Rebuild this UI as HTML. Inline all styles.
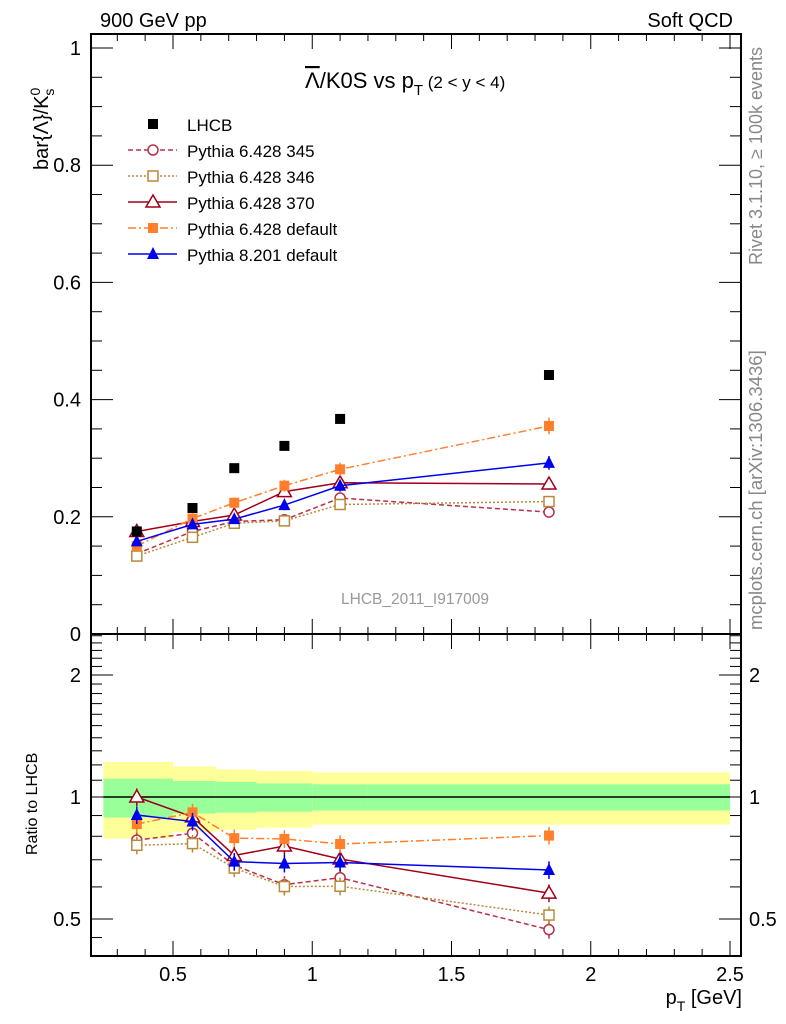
<!DOCTYPE html>
<html><head><meta charset="utf-8">
<style>
body{margin:0;background:#fff;}
svg{display:block;font-family:"Liberation Sans",sans-serif;}
</style></head>
<body>
<svg id="chart" width="786" height="1024" viewBox="0 0 786 1024" xmlns="http://www.w3.org/2000/svg">
<text x="100" y="27" font-size="20">900 GeV pp</text>
<text x="733" y="27" font-size="20" text-anchor="end">Soft QCD</text>
<text x="305" y="88" font-size="22"><tspan text-decoration="overline">Λ</tspan>/K0S vs p<tspan font-size="15" dy="7">T</tspan><tspan font-size="17" dy="-7"> (2 &lt; y &lt; 4)</tspan></text>
<text transform="translate(762,265) rotate(-90)" font-size="18" fill="#888">Rivet 3.1.10, ≥ 100k events</text>
<text transform="translate(762,630) rotate(-90)" font-size="18.5" fill="#888">mcplots.cern.ch [arXiv:1306.3436]</text>
<text transform="translate(48,170) rotate(-90)" font-size="20">bar{Λ}/K<tspan font-size="14" dy="-8">0</tspan><tspan font-size="14" dy="14" dx="-8">s</tspan></text>
<text transform="translate(37,855) rotate(-90)" font-size="16">Ratio to LHCB</text>
<text x="415" y="604" font-size="15.5" fill="#999" text-anchor="middle">LHCB_2011_I917009</text>
<text x="742" y="1004" font-size="20" text-anchor="end">p<tspan font-size="14" dy="7">T</tspan><tspan dy="-7"> [GeV]</tspan></text>
<g id="bands"></g><g id="axes"></g><g id="series"></g><g id="legend"></g>
</svg>
<script>
const xs = [0.37,0.57,0.72,0.9,1.1,1.85];
const lhcb = [0.175,0.215,0.283,0.321,0.367,0.442];
const p345 = [0.137,0.175,0.192,0.195,0.232,0.208];
const p346 = [0.133,0.165,0.189,0.193,0.221,0.226];
const p370 = [0.175,0.192,0.203,0.243,0.258,0.256];
const p6def = [0.150,0.197,0.224,0.253,0.281,0.355];
const p8def = [0.158,0.187,0.196,0.220,0.253,0.292];
const binEdges = [0.25,0.5,0.654,0.8,1.0,1.2,2.5];
const yelHi = [1.22,1.19,1.17,1.16,1.15,1.15];
const yelLo = [0.79,0.82,0.83,0.84,0.855,0.855];
const grnHi = [1.11,1.095,1.09,1.08,1.075,1.075];
const grnLo = [0.89,0.91,0.915,0.92,0.926,0.926];
const xTicks = [0.5,1,1.5,2,2.5];
const xTickLabels = ["0.5","1","1.5","2","2.5"];
const yTicks = [0,0.2,0.4,0.6,0.8,1];
const yTickLabels = ["0","0.2","0.4","0.6","0.8","1"];
const rTicks = [0.5,1,2];
const rTickLabels = ["0.5","1","2"];

const NS="http://www.w3.org/2000/svg";
const L=91,R=741,MT=34,MB=634,RT=634,RB=956;
const X=v=>173+(v-0.5)*278.5;
const Y=v=>634-586*v;
const RY=r=>797-122*Math.log2(r);
function mk(tag,attrs,parent){const e=document.createElementNS(NS,tag);for(const k in attrs)e.setAttribute(k,attrs[k]);parent.appendChild(e);return e;}
const ax=document.getElementById('axes'),bd=document.getElementById('bands'),se=document.getElementById('series'),lg=document.getElementById('legend');

for(let i=0;i<yelHi.length;i++){
  const x0=X(binEdges[i]),x1=X(binEdges[i+1]);
  const y=mk('rect',{x:x0,y:RY(yelHi[i]),width:x1-x0,height:RY(yelLo[i])-RY(yelHi[i]),fill:'#ffff99'},bd);
  
  
  const g=mk('rect',{x:x0,y:RY(grnHi[i]),width:x1-x0,height:RY(grnLo[i])-RY(grnHi[i]),fill:'#99ff99'},bd);
  
  
}
const one=mk('line',{x1:X(binEdges[0]),x2:X(2.5),y1:RY(1),y2:RY(1),stroke:'#000','stroke-width':1.5},bd);



const f1=mk('rect',{x:L,y:MT,width:R-L,height:MB-MT,fill:'none',stroke:'#000','stroke-width':2},ax);


const f2=mk('rect',{x:L,y:RT,width:R-L,height:RB-RT,fill:'none',stroke:'#000','stroke-width':2},ax);


function tk(x1,y1,x2,y2){mk('line',{x1,y1,x2,y2,stroke:'#000','stroke-width':1},ax);}
for(let v=0.3;v<=2.51;v+=0.1){
  const vv=Math.round(v*10)/10,maj=Math.abs(vv*2-Math.round(vv*2))<1e-6;const len=maj?15:7,x=X(vv);
  tk(x,MT,x,MT+len);tk(x,MB,x,MB-len);tk(x,RT,x,RT+len);tk(x,RB,x,RB-len);
}
xTicks.forEach((v,i)=>{const t=mk('text',{x:X(v),y:RB+25,'font-size':20,'text-anchor':'middle'},ax);t.textContent=xTickLabels[i];
  
  });
for(let v=0;v<=1.02;v+=0.05){const vv=Math.round(v*100)/100,maj=Math.abs(vv*5-Math.round(vv*5))<1e-6,len=maj?22:11,y=Y(vv);
  tk(L,y,L+len,y);tk(R,y,R-len,y);}
yTicks.forEach((v,i)=>{const t=mk('text',{x:L-10,y:Y(v)+7,'font-size':20,'text-anchor':'end'},ax);t.textContent=yTickLabels[i];
  
  });
for(let v=0.5;v<=2.51;v+=0.1){const vv=Math.round(v*10)/10,maj=rTicks.includes(vv),len=maj?22:11,y=RY(vv);
  tk(L,y,L+len,y);tk(R,y,R-len,y);}
tk(L,RY(0.45),L+11,RY(0.45));
rTicks.forEach((v,i)=>{const t=mk('text',{x:L-10,y:RY(v)+7,'font-size':20,'text-anchor':'end'},ax);t.textContent=rTickLabels[i];
  
  
  const t2=mk('text',{x:R+8,y:RY(v)+7,'font-size':20},ax);t2.textContent=rTickLabels[i];
  
  });

function marker(g,type,x,y,col){
  if(type==='sqf')mk('rect',{x:x-5,y:y-5,width:10,height:10,fill:col},g);
  else if(type==='sqo')mk('rect',{x:x-5,y:y-5,width:10,height:10,fill:'#fff',stroke:col,'stroke-width':1.5},g);
  else if(type==='circ')mk('circle',{cx:x,cy:y,r:5,fill:'#fff',stroke:col,'stroke-width':1.5},g);
  else if(type==='trio')mk('path',{d:`M${x},${y-7}L${x+7},${y+5}L${x-7},${y+5}Z`,fill:'#fff',stroke:col,'stroke-width':1.5},g);
  else if(type==='trif')mk('path',{d:`M${x},${y-7}L${x+6},${y+5}L${x-6},${y+5}Z`,fill:col},g);
}
const series=[
 {name:'Pythia 6.428 345',d:p345,col:'#b8304a',dash:'5,3',m:'circ'},
 {name:'Pythia 6.428 346',d:p346,col:'#b8893a',dash:'2,2',m:'sqo'},
 {name:'Pythia 6.428 370',d:p370,col:'#a00018',dash:'',m:'trio'},
 {name:'Pythia 6.428 default',d:p6def,col:'#ff7f2a',dash:'8,3,2,3',m:'sqf'},
 {name:'Pythia 8.201 default',d:p8def,col:'#0000ee',dash:'',m:'trif'}];
series.forEach((s,k)=>{
  const g=mk('g',{},se);
  
  
  const pts=xs.map((x,i)=>X(x)+','+Y(s.d[i])).join(' ');
  const rpts=xs.map((x,i)=>X(x)+','+RY(s.d[i]/lhcb[i])).join(' ');
  mk('polyline',{points:pts,fill:'none',stroke:s.col,'stroke-width':1.5,'stroke-dasharray':s.dash},g);
  mk('polyline',{points:rpts,fill:'none',stroke:s.col,'stroke-width':1.5,'stroke-dasharray':s.dash},g);
  xs.forEach((x,i)=>{
    const e=s.d[i]*0.04;
    mk('line',{x1:X(x),x2:X(x),y1:Y(s.d[i]-e),y2:Y(s.d[i]+e),stroke:s.col,'stroke-width':1.5},g);
    const r=s.d[i]/lhcb[i];
    mk('line',{x1:X(x),x2:X(x),y1:RY(r*0.95),y2:RY(r*1.05),stroke:s.col,'stroke-width':1.5},g);
    marker(g,s.m,X(x),Y(s.d[i]),s.col);
    marker(g,s.m,X(x),RY(r),s.col);
  });
  const ly=124+26*(k+1);
  const le=mk('g',{},lg);
  
  
  mk('line',{x1:128,x2:177,y1:ly,y2:ly,stroke:s.col,'stroke-width':1.5,'stroke-dasharray':s.dash},le);
  marker(le,s.m,153,ly,s.col);
  const t=mk('text',{x:187,y:ly+7,'font-size':17},le);t.textContent=s.name;
});
const dg=mk('g',{},se);


xs.forEach((x,i)=>marker(dg,'sqf',X(x),Y(lhcb[i]),'#000'));
const le0=mk('g',{},lg);


marker(le0,'sqf',153,124,'#000');
const t0=mk('text',{x:187,y:131,'font-size':17},le0);t0.textContent='LHCB';
</script>
</body></html>
